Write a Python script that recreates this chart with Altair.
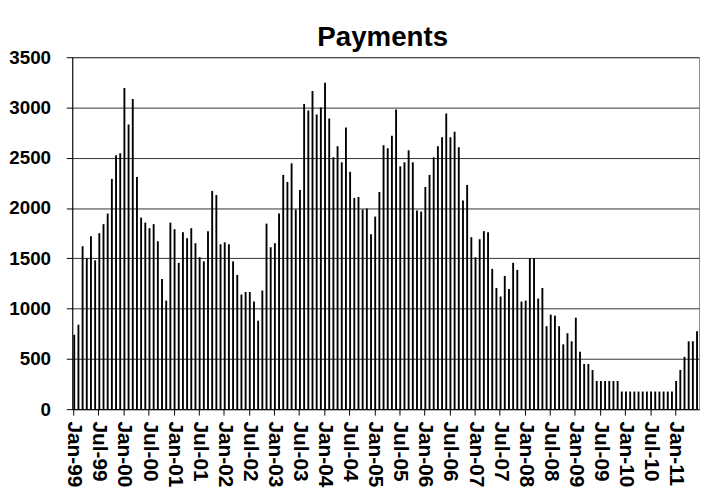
import altair as alt
import pandas as pd

month_names = ["Jan", "Feb", "Mar", "Apr", "May", "Jun",
               "Jul", "Aug", "Sep", "Oct", "Nov", "Dec"]
months = [f"{m}-{y % 100:02d}" for y in range(1999, 2012) for m in month_names][:150]

payments = [
    740, 840, 1620, 1500, 1720, 1480, 1750, 1840, 1945, 2290, 2525, 2545,
    3195, 2830, 3085, 2310, 1905, 1855, 1800, 1840, 1670, 1295, 1080, 1855,
    1790, 1455, 1760, 1700, 1800, 1650, 1510, 1470, 1770, 2170, 2130, 1640,
    1660, 1640, 1470, 1335, 1140, 1165, 1165, 1070, 880, 1180, 1845, 1610,
    1650, 1945, 2330, 2260, 2445, 1985, 2180, 3035, 2970, 3165, 2930, 3000,
    3245, 2890, 2505, 2615, 2455, 2800, 2360, 2100, 2110, 1985, 1995, 1740,
    1915, 2160, 2625, 2595, 2720, 2980, 2415, 2455, 2575, 2455, 1975, 1965,
    2210, 2330, 2505, 2615, 2705, 2940, 2705, 2760, 2605, 2075, 2230, 1710,
    1510, 1690, 1770, 1760, 1395, 1205, 1120, 1325, 1195, 1455, 1385, 1070,
    1080, 1500, 1500, 1100, 1205, 825, 940, 930, 825, 645, 755, 675,
    910, 570, 450, 450, 390, 280, 280, 280, 280, 280, 280, 175,
    175, 175, 175, 175, 175, 175, 175, 175, 175, 175, 175, 175,
    280, 390, 520, 675, 675, 775,
]

label_months = months[::6]
y_ticks = list(range(0, 3501, 500))

df = pd.DataFrame({"Month": months, "Payments": payments})

FONT = "Liberation Sans"

chart = alt.Chart(df).mark_bar(color="black").encode(
    x=alt.X("Month:O", sort=None,
            scale=alt.Scale(paddingInner=0.55, paddingOuter=0.25),
            axis=alt.Axis(title=None, values=label_months, labelAngle=90,
                          labelFont=FONT, labelFontWeight="bold", labelFontSize=21,
                          labelColor="black", domainColor="black", tickColor="black",
                          tickSize=6, labelPadding=6, bandPosition=0.3, grid=False,
                          labelOverlap=False)),
    y=alt.Y("Payments:Q",
            scale=alt.Scale(domain=[0, 3500], nice=False),
            axis=alt.Axis(title=None, values=y_ticks, format="d", labelFont=FONT,
                          labelFontWeight="bold", labelFontSize=19, labelColor="black",
                          domainColor="black", tickColor="black", tickSize=6,
                          gridColor="#333333", gridOpacity=1, gridWidth=1,
                          labelPadding=16, labelOverlap=False)),
).properties(
    width=634,
    height=356,
    title=alt.TitleParams("Payments", font=FONT, fontSize=28, fontWeight="bold",
                          color="black", offset=-4, dx=-3),
    autosize=alt.AutoSizeParams(type="none"),
    padding={"left": 65, "top": 47, "right": 2, "bottom": 80},
).configure_view(stroke="#8c8c8c", strokeWidth=1)

chart.save("out.html", embed_options={"renderer": "svg", "actions": False})
